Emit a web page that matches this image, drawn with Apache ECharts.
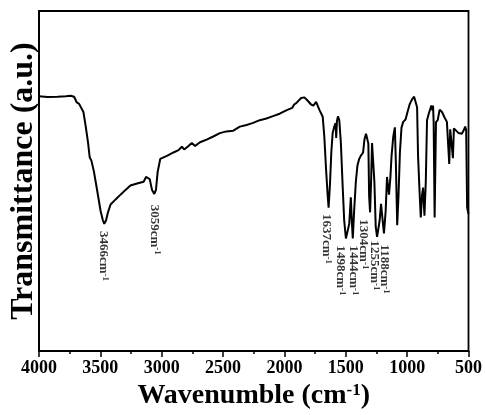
<!DOCTYPE html>
<html>
<head>
<meta charset="utf-8">
<script src="https://cdn.jsdelivr.net/npm/echarts@6/dist/echarts.min.js"></script>
<style>html,body{margin:0;padding:0;background:#fff;}#c{width:485px;height:415px;}</style>
</head>
<body>
<div id="c"></div>
<script>
// FTIR spectrum: wavenumber (cm-1) and transmittance (a.u.)
const wavenumber = [4000,3930,3849,3781,3741,3714,3692,3673,3660,3638,3619,3600,3587,3573,3552,3525,3498,3479,3468,3454,3438,3417,3376,3336,3295,3255,3201,3147,3128,3114,3098,3079,3060,3047,3033,3012,2958,2904,2863,2836,2817,2782,2755,2728,2688,2634,2580,2526,2472,2417,2363,2309,2255,2201,2147,2093,2039,1985,1937,1921,1904,1864,1837,1810,1783,1764,1742,1726,1713,1699,1688,1675,1661,1648,1640,1629,1618,1607,1594,1583,1578,1572,1564,1553,1540,1526,1513,1499,1483,1472,1459,1451,1443,1432,1418,1405,1391,1378,1370,1359,1348,1335,1324,1316,1310,1302,1294,1286,1278,1267,1256,1245,1235,1224,1213,1202,1189,1175,1164,1156,1148,1137,1127,1113,1100,1092,1081,1070,1059,1046,1032,1013,997,978,959,943,929,919,911,900,889,878,870,859,848,838,824,813,803,794,789,784,776,765,751,735,716,695,676,665,657,649,635,627,619,603,581,554,538,527,519,511,500];
const transmittance = [74.9,74.7,74.8,74.9,75.1,74.8,73.1,72.7,72.2,70.3,66.0,61.2,57.0,56.0,52.7,47.0,41.2,38.4,37.4,38.4,40.8,43.1,44.6,46.0,47.4,48.7,49.3,49.8,51.2,51.7,50.6,47.4,46.2,47.4,52.7,56.5,57.4,58.4,59.1,60.1,59.3,60.3,61.2,60.3,61.4,62.2,63.1,64.1,64.6,64.8,66.0,66.5,67.1,67.9,68.4,69.1,69.8,70.8,71.5,72.5,72.9,74.4,74.6,73.6,72.5,72.2,73.3,72.9,70.8,70.3,68.9,63.1,53.6,46.0,42.2,48.9,58.4,64.1,66.0,67.0,62.7,67.7,69.0,67.9,61.2,48.9,38.4,33.1,33.1,37.4,45.2,38.4,33.1,41.2,49.8,54.6,56.5,57.4,57.0,58.4,62.2,63.9,63.9,61.0,45.8,40.8,49.8,61.2,61.2,49.8,36.5,33.6,34.1,38.4,43.3,43.6,34.6,41.2,51.2,51.2,46.0,50.8,57.4,63.1,65.8,55.4,37.0,46.0,58.4,65.7,67.4,68.1,70.3,72.7,74.1,74.8,74.6,71.7,57.4,47.9,39.3,46.0,48.1,39.8,49.8,67.9,69.8,70.3,72.2,70.8,72.2,67.4,39.3,67.3,67.9,71.0,70.3,68.7,67.4,67.0,55.0,65.2,64.9,56.7,65.5,65.2,64.1,63.9,65.0,66.0,65.0,42.2,40.3];

// Peak annotations: label text, where each label is drawn (x in cm-1, top in a.u.)
const peakNames = ['3466','3059','1637','1498','1444','1304','1255','1188'];
const peakLabelX = [3471,3052,1652,1540,1438,1355,1263,1182];
const peakLabelY = [35.2,42.9,40.2,30.9,30.9,38.6,32.4,31.2];

const xTicks = [4000,3500,3000,2500,2000,1500,1000,500];

const lineData = wavenumber.map((w,i)=>[w, transmittance[i]]);
const peakData = peakNames.map((n,i)=>[peakLabelX[i], peakLabelY[i], n]);

const serif = '"Liberation Serif","Times New Roman",serif';
const chart = echarts.init(document.getElementById('c'));
chart.setOption({
  animation:false,
  backgroundColor:'#fff',
  grid:{left:38,right:15,top:11,bottom:54,show:true,borderColor:'#000',borderWidth:1.8,backgroundColor:'transparent'},
  xAxis:{
    type:'value', inverse:true, min:500, max:4000, interval:500,
    axisLine:{show:true,lineStyle:{color:'#000',width:1.8}},
    axisTick:{show:true,inside:false,length:6,lineStyle:{color:'#000',width:1.5}},
    minorTick:{show:true,splitNumber:2,length:3,lineStyle:{color:'#000',width:1.5}},
    splitLine:{show:false},
    axisLabel:{margin:8,color:'#000',fontFamily:serif,fontWeight:'bold',fontSize:18,
      formatter:v=> xTicks.indexOf(v)>=0 ? String(v) : ''},
    name:'{a|Wavenumble (cm}{s|-1}{a|)}', nameLocation:'middle', nameGap:25,
    nameTextStyle:{color:'#000',fontFamily:serif,fontWeight:'bold',fontSize:28,
      rich:{a:{fontFamily:serif,fontWeight:'bold',fontSize:28,color:'#000',verticalAlign:'bottom',lineHeight:28},
            s:{fontFamily:serif,fontWeight:'bold',fontSize:17,color:'#000',verticalAlign:'top',lineHeight:28}}}
  },
  yAxis:{
    type:'value', min:0, max:100,
    axisLine:{show:true,lineStyle:{color:'#000',width:1.8}},
    axisTick:{show:false}, axisLabel:{show:false}, splitLine:{show:false},
    name:'Transmittance (a.u.)', nameLocation:'middle', nameGap:-1,
    nameTextStyle:{color:'#000',fontFamily:serif,fontWeight:'bold',fontSize:32}
  },
  series:[
    {type:'line', data:lineData, showSymbol:false, symbol:'none', smooth:false,
     lineStyle:{color:'#000',width:2}, z:3},
    {type:'scatter', data:peakData, symbol:'circle', symbolSize:1,
     itemStyle:{color:'rgba(0,0,0,0)'}, z:4,
     label:{show:true, position:[0,0], rotate:-90, align:'left', verticalAlign:'middle',
       formatter:p=>'{a|'+p.data[2]+'cm}{s|-1}',
       rich:{a:{fontFamily:serif,fontWeight:'bold',fontSize:13,color:'#000',verticalAlign:'bottom',lineHeight:13},
             s:{fontFamily:serif,fontWeight:'bold',fontSize:9,color:'#000',verticalAlign:'top',lineHeight:13}}}}
  ]
});
</script>
</body>
</html>
